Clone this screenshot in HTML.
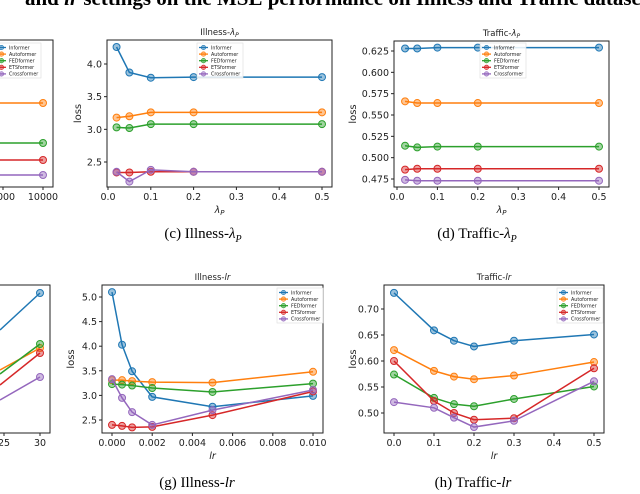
<!DOCTYPE html>
<html><head><meta charset="utf-8"><style>
body{margin:0;background:#fff;width:640px;height:494px;overflow:hidden;position:relative;font-family:"DejaVu Sans","Liberation Sans",sans-serif}
.cap{position:absolute;font-family:"Liberation Serif",serif;font-size:15px;color:#000;white-space:nowrap;transform:translateX(-50%)}
#hdrwrap{position:absolute;left:0;top:0;width:640px;height:14px;overflow:hidden}
#hdr{position:absolute;left:25px;top:-14px;font-family:"Liberation Serif",serif;font-weight:bold;font-size:21px;white-space:nowrap}
</style></head><body>
<div id="hdrwrap"><div id="hdr">and <i>lr</i> settings on the MSE performance on Illness and Traffic datasets</div></div>
<div class="cap" style="left:203px;top:226px">(c) Illness-<i>λ<sub style="font-size:10px">P</sub></i></div>
<div class="cap" style="left:477px;top:226px">(d) Traffic-<i>λ<sub style="font-size:10px">P</sub></i></div>
<div class="cap" style="left:197px;top:475px">(g) Illness-<i>lr</i></div>
<div class="cap" style="left:473px;top:475px">(h) Traffic-<i>lr</i></div>
<svg id="svg" width="640" height="494" style="position:absolute;left:0;top:0;overflow:hidden"></svg>
<script>
const seriesNames=["Informer","Autoformer","FEDformer","ETSformer","Crossformer"];
const colors=["#1f77b4","#ff7f0e","#2ca02c","#d62728","#9467bd"];
// (c) Illness-lambdaP
const cX=[0.02,0.05,0.1,0.2,0.5];
const cInformer=[4.26,3.87,3.79,3.80,3.80];
const cAutoformer=[3.18,3.20,3.26,3.26,3.26];
const cFEDformer=[3.03,3.02,3.08,3.08,3.08];
const cETSformer=[2.34,2.34,2.35,2.35,2.35];
const cCrossformer=[2.35,2.20,2.38,2.35,2.35];
const cYTicks=[2.5,3.0,3.5,4.0];
const cXTicks=[0,0.1,0.2,0.3,0.4,0.5];
// (d) Traffic-lambdaP
const dX=[0.02,0.05,0.1,0.2,0.5];
const dInformer=[0.628,0.628,0.629,0.629,0.629];
const dAutoformer=[0.566,0.564,0.564,0.564,0.564];
const dFEDformer=[0.514,0.512,0.513,0.513,0.513];
const dETSformer=[0.486,0.487,0.487,0.487,0.487];
const dCrossformer=[0.474,0.473,0.473,0.473,0.473];
const dYTicks=[0.475,0.5,0.525,0.55,0.575,0.6,0.625];
const dXTicks=[0,0.1,0.2,0.3,0.4,0.5];
// (g) Illness-lr
const gX=[0,0.0005,0.001,0.002,0.005,0.01];
const gInformer=[5.1,4.03,3.49,2.97,2.77,2.99];
const gAutoformer=[3.31,3.31,3.29,3.27,3.26,3.48];
const gFEDformer=[3.23,3.22,3.20,3.15,3.07,3.24];
const gETSformer=[2.40,2.38,2.35,2.36,2.60,3.08];
const gCrossformer=[3.33,2.95,2.66,2.40,2.70,3.11];
const gYTicks=[2.5,3.0,3.5,4.0,4.5,5.0];
const gXTicks=[0,0.002,0.004,0.006,0.008,0.01];
// (h) Traffic-lr
const hX=[0,0.1,0.15,0.2,0.3,0.5];
const hInformer=[0.731,0.659,0.639,0.628,0.639,0.651];
const hAutoformer=[0.621,0.581,0.570,0.565,0.572,0.598];
const hFEDformer=[0.574,0.529,0.517,0.513,0.527,0.551];
const hETSformer=[0.600,0.523,0.500,0.487,0.490,0.586];
const hCrossformer=[0.521,0.510,0.491,0.473,0.485,0.561];
const hYTicks=[0.5,0.55,0.6,0.65,0.7];
const hXTicks=[0,0.1,0.2,0.3,0.4,0.5];

const NS="http://www.w3.org/2000/svg";
const svg=document.getElementById("svg");
function mk(tag,attrs,parent){const e=document.createElementNS(NS,tag);for(const k in attrs)e.setAttribute(k,attrs[k]);(parent||svg).appendChild(e);return e;}

function linScale(d0,d1,r0,r1){return v=>r0+(v-d0)*(r1-r0)/(d1-d0);}

function drawPanel(p){
  const g=mk("g",{});
  
  
  const xs=linScale(p.xd[0],p.xd[1],p.xr[0],p.xr[1]);
  const ys=linScale(p.yd[0],p.yd[1],p.yr[0],p.yr[1]);
  p.series.forEach((s,i)=>{
    const pts=p.x.map((v,j)=>xs(v)+","+ys(s[j])).join(" ");
    const pl=mk("polyline",{points:pts,fill:"none",stroke:colors[i],"stroke-width":1.5},g);
    
    
    p.x.forEach((v,j)=>{
      const c=mk("circle",{cx:xs(v),cy:ys(s[j]),r:3.5,fill:colors[i],"fill-opacity":0.45,stroke:colors[i],"stroke-width":1},g);
      
      
    });
  });
  const b=mk("rect",{x:p.box[0],y:p.box[1],width:p.box[2]-p.box[0],height:p.box[3]-p.box[1],fill:"none",stroke:"#222","stroke-width":1},g);
  
  
  p.yt.forEach(v=>{
    const y=ys(v);
    mk("line",{x1:p.box[0]-3,x2:p.box[0],y1:y,y2:y,stroke:"#222"},g);
    const t=mk("text",{x:p.box[0]-5,y:y+3.5,"text-anchor":"end","font-size":9.5,fill:"#222"},g);
    t.textContent=p.yfmt(v);
    
    
  });
  p.xt.forEach(v=>{
    const x=xs(v);
    mk("line",{x1:x,x2:x,y1:p.box[3],y2:p.box[3]+3,stroke:"#222"},g);
    const t=mk("text",{x:x,y:p.box[3]+13,"text-anchor":"middle","font-size":9.5,fill:"#222"},g);
    t.textContent=p.xfmt(v);
    
    
  });
  const cx=(p.box[0]+p.box[2])/2;
  const tt=mk("text",{x:cx,y:p.box[1]-5,"text-anchor":"middle","font-size":8.5,fill:"#222"},g);
  tt.innerHTML=p.title;
  
  
  const xl=mk("text",{x:cx,y:p.box[3]+26,"text-anchor":"middle","font-size":9.5,"font-style":"italic",fill:"#222"},g);
  xl.innerHTML=p.xlabel;
  
  
  const yl=mk("text",{x:p.ylx,y:(p.box[1]+p.box[3])/2,"text-anchor":"middle","font-size":10,fill:"#222",transform:"rotate(-90 "+p.ylx+" "+((p.box[1]+p.box[3])/2)+")"},g);
  yl.textContent="loss";
  
  
  drawLegend(p.leg[0],p.leg[1],g,p.id);
}
function drawLegend(x,y,parent,id){
  const lg=mk("g",{},parent);
  
  
  mk("rect",{x:x,y:y,width:46,height:35,fill:"#fff","fill-opacity":0.85,stroke:"#ddd","stroke-width":0.6},lg);
  seriesNames.forEach((n,i)=>{
    const yy=y+4.5+i*6.6;
    const e=mk("g",{},lg);
    
    
    mk("line",{x1:x+2,x2:x+11,y1:yy,y2:yy,stroke:colors[i],"stroke-width":1.3},e);
    mk("circle",{cx:x+6.5,cy:yy,r:2.2,fill:colors[i],"fill-opacity":0.5,stroke:colors[i],"stroke-width":0.7},e);
    const t=mk("text",{x:x+14,y:yy+1.8,"font-size":4.8,fill:"#222"},e);
    t.textContent=n;
  });
}
const f1=v=>v.toFixed(1), f3=v=>v.toFixed(3), f2=v=>v.toFixed(2);
drawPanel({id:"illness-lambda",x:cX,series:[cInformer,cAutoformer,cFEDformer,cETSformer,cCrossformer],
  xd:[0,0.5],xr:[108,322],yd:[2.5,4.0],yr:[162,64],box:[107,40,332,187],yt:cYTicks,xt:cXTicks,yfmt:f1,xfmt:f1,
  title:'Illness-<tspan font-style="italic">λ</tspan><tspan font-style="italic" font-size="6" dy="2">P</tspan>',xlabel:'λ<tspan font-size="7" dy="2">P</tspan>',ylx:81,leg:[197,43]});
drawPanel({id:"traffic-lambda",x:dX,series:[dInformer,dAutoformer,dFEDformer,dETSformer,dCrossformer],
  xd:[0,0.5],xr:[397,599],yd:[0.475,0.625],yr:[179,51],box:[394,41,609,187],yt:dYTicks,xt:dXTicks,yfmt:f3,xfmt:f1,
  title:'Traffic-<tspan font-style="italic">λ</tspan><tspan font-style="italic" font-size="6" dy="2">P</tspan>',xlabel:'λ<tspan font-size="7" dy="2">P</tspan>',ylx:356,leg:[480,43]});
drawPanel({id:"illness-lr",x:gX,series:[gInformer,gAutoformer,gFEDformer,gETSformer,gCrossformer],
  xd:[0,0.01],xr:[112,313],yd:[2.5,5.0],yr:[420,297],box:[102,285,323,433],yt:gYTicks,xt:gXTicks,yfmt:f1,xfmt:f3,
  title:'Illness-<tspan font-style="italic">lr</tspan>',xlabel:'lr',ylx:74,leg:[277,288]});
drawPanel({id:"traffic-lr",x:hX,series:[hInformer,hAutoformer,hFEDformer,hETSformer,hCrossformer],
  xd:[0,0.5],xr:[394,594],yd:[0.5,0.7],yr:[413,309],box:[384,285,604,433],yt:hYTicks,xt:hXTicks,yfmt:f2,xfmt:f1,
  title:'Traffic-<tspan font-style="italic">lr</tspan>',xlabel:'lr',ylx:356,leg:[557,288]});

const pTopY=[103,143,160,175];
const pTop=mk("g",{});


[1,2,3,4].forEach((ci,k)=>{
  mk("line",{x1:0,x2:43,y1:pTopY[k],y2:pTopY[k],stroke:colors[ci],"stroke-width":1.5},pTop);
  mk("circle",{cx:43,cy:pTopY[k],r:3.5,fill:colors[ci],"fill-opacity":0.45,stroke:colors[ci]},pTop);
});
mk("rect",{x:-5,y:40,width:58,height:147,fill:"none",stroke:"#222"},pTop);
mk("line",{x1:43,x2:43,y1:187,y2:190,stroke:"#222"},pTop);
mk("line",{x1:3,x2:3,y1:187,y2:190,stroke:"#222"},pTop);
let t1=mk("text",{x:43,y:200,"text-anchor":"middle","font-size":9.5,fill:"#222"},pTop);t1.textContent="10000";
let t2=mk("text",{x:3,y:200,"text-anchor":"middle","font-size":9.5,fill:"#222"},pTop);t2.textContent="5000";
drawLegend(-5,43,pTop,"partial-top");

const pBot=mk("g",{});


const pBotL=[330,370,374,385,400], pBotR=[293,348,344,353,377];
[0,1,2,3,4].forEach(i=>{
  mk("line",{x1:0,x2:40,y1:pBotL[i],y2:pBotR[i],stroke:colors[i],"stroke-width":1.5},pBot);
  mk("circle",{cx:40,cy:pBotR[i],r:3.5,fill:colors[i],"fill-opacity":0.45,stroke:colors[i]},pBot);
});
mk("rect",{x:-5,y:285,width:55,height:148,fill:"none",stroke:"#222"},pBot);
mk("line",{x1:40,x2:40,y1:433,y2:436,stroke:"#222"},pBot);
mk("line",{x1:4,x2:4,y1:433,y2:436,stroke:"#222"},pBot);
let t3=mk("text",{x:40,y:446,"text-anchor":"middle","font-size":9.5,fill:"#222"},pBot);t3.textContent="30";
let t4=mk("text",{x:4,y:446,"text-anchor":"middle","font-size":9.5,fill:"#222"},pBot);t4.textContent="25";
</script>
</body></html>
